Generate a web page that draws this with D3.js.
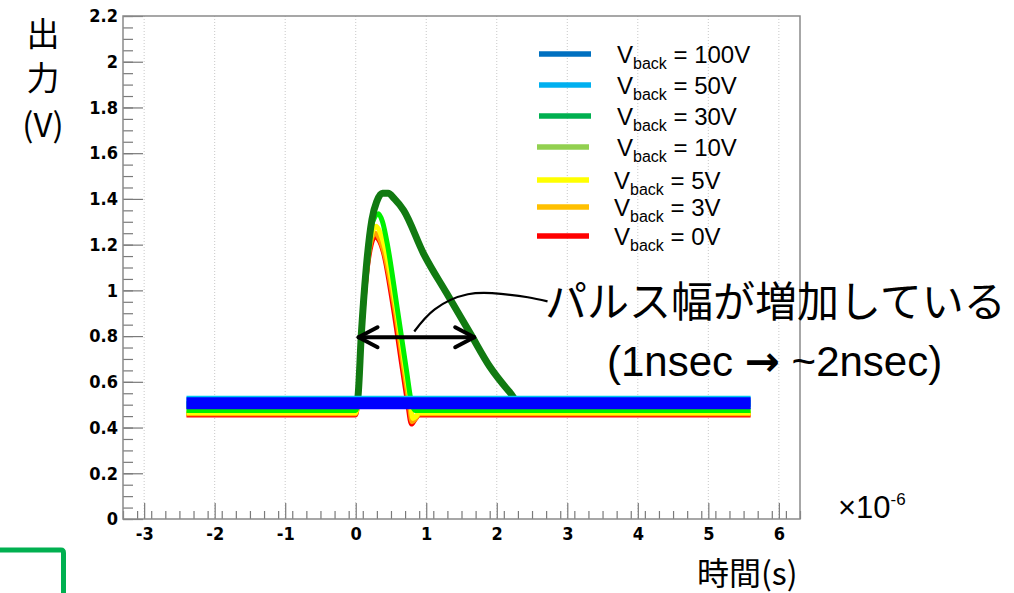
<!DOCTYPE html>
<html>
<head>
<meta charset="utf-8">
<title>パルス幅</title>
<script src="https://d3js.org/d3.v7.min.js"></script>
<style>
    body { margin: 0; background: #ffffff; }
    svg { display: block; }
    .tick line { stroke: #7a7a7a; stroke-width: 1.2; }
    .jp { font-family: "Noto Sans CJK JP", sans-serif; fill: #000; }
    .lat { font-family: "Liberation Sans", Arial, sans-serif; fill: #000; }
</style>
</head>
<body>
<svg id="chart" width="1014" height="593"></svg>
<script>
// legend order, top to bottom
const vbackLabels = ["100V", "50V", "30V", "10V", "5V", "3V", "0V"];
const legendColors = ["#0070c0", "#00b0f0", "#00b050", "#92d050", "#ffff00", "#ffc000", "#ff0000"];
const traceColors = ["#0000ff", "#00c8f0", "#117a11", "#00f000", "#ffff00", "#ffa000", "#ff0000"];
const traceWidths = [12, 12, 7, 5, 5, 5, 5];

// waveforms: [time (x10^-6 s), output (V)]
const trace100V = [[-2.4, 0.506], [5.6, 0.506]];
const trace50V = [[-2.4, 0.513], [5.6, 0.513]];
const trace30V = [[-2.4, 0.5], [0, 0.5], [0.03, 0.53], [0.08, 0.81], [0.15, 1.1], [0.23, 1.31], [0.3, 1.39],
    [0.38, 1.425], [0.46, 1.425], [0.55, 1.4], [0.68, 1.35], [0.96, 1.162], [1.29, 0.987], [1.62, 0.814], [1.9, 0.667],
    [2.19, 0.552], [2.32, 0.506], [5.6, 0.506]];
const trace10V = [[-2.4, 0.475], [0, 0.475], [0.03, 0.52], [0.08, 0.81], [0.15, 1.1], [0.22, 1.28], [0.32, 1.335],
    [0.38, 1.3], [0.45, 1.2], [0.58, 0.94], [0.72, 0.65], [0.79, 0.51], [0.84, 0.475], [5.6, 0.475]];
const trace5V = [[-2.4, 0.465], [0, 0.465], [0.03, 0.52], [0.08, 0.8], [0.15, 1.08], [0.22, 1.24], [0.29, 1.28],
    [0.35, 1.25], [0.42, 1.18], [0.57, 0.93], [0.71, 0.64], [0.78, 0.5], [0.81, 0.44], [0.86, 0.45], [0.9, 0.465], [5.6, 0.465]];
const trace3V = [[-2.4, 0.46], [0, 0.46], [0.03, 0.52], [0.08, 0.8], [0.15, 1.07], [0.22, 1.22], [0.27, 1.25],
    [0.33, 1.23], [0.4, 1.17], [0.55, 0.93], [0.69, 0.64], [0.76, 0.5], [0.8, 0.425], [0.85, 0.44], [0.9, 0.46], [5.6, 0.46]];
const trace0V = [[-2.4, 0.455], [0, 0.455], [0.03, 0.52], [0.08, 0.8], [0.15, 1.06], [0.22, 1.2], [0.27, 1.235],
    [0.33, 1.22], [0.39, 1.17], [0.53, 0.93], [0.67, 0.64], [0.74, 0.5], [0.79, 0.415], [0.84, 0.435], [0.9, 0.455], [5.6, 0.455]];
const traces = [trace100V, trace50V, trace30V, trace10V, trace5V, trace3V, trace0V];

const xTicks = [-3, -2, -1, 0, 1, 2, 3, 4, 5, 6];
const yTicks = [0, 0.2, 0.4, 0.6, 0.8, 1, 1.2, 1.4, 1.6, 1.8, 2, 2.2];
const xTickLabels = ["-3", "-2", "-1", "0", "1", "2", "3", "4", "5", "6"];
const yTickLabels = ["0", "0.2", "0.4", "0.6", "0.8", "1", "1.2", "1.4", "1.6", "1.8", "2", "2.2"];

// double arrow + leader line (data units)
const arrowEnds = [[0.04, 0.795], [1.68, 0.795]];
const leaderPts = [[0.83, 0.82], [1.12, 0.917], [1.59, 0.983], [2.06, 0.985], [2.44, 0.97], [2.72, 0.952]];

const svg = d3.select("#chart");
const plot = { left: 123, right: 800, top: 16, bottom: 519 };

const x = d3.scaleLinear().domain([-3.3, 6.3]).range([plot.left, plot.right]);
const y = d3.scaleLinear().domain([0, 2.2]).range([plot.bottom, plot.top]);

// grid
svg.append("g").selectAll("line")
    .data(xTicks)
    .enter()
    .append("line")
    .attr("x1", d => x(d)).attr("x2", d => x(d))
    .attr("y1", plot.top).attr("y2", plot.bottom)
    .attr("stroke", "#c8c8c8")
    .attr("stroke-dasharray", "1,2");

// traces, drawn from 0V up so the blue band sits on top
const line = d3.line().x(d => x(d[0])).y(d => y(d[1])).curve(d3.curveMonotoneX);
const order = d3.range(traces.length).reverse();
svg.append("g").selectAll("path")
    .data(order)
    .enter()
    .append("path")
    .attr("d", i => line(traces[i]))
    .attr("fill", "none")
    .attr("stroke", i => traceColors[i])
    .attr("stroke-width", i => traceWidths[i])
    .attr("stroke-linejoin", "round");

// axes
const xMinor = d3.range(-33, 64, 2).map(i => i / 10);
const yMinor = d3.range(0, 45).map(i => i * 0.05);

const styleLabels = g => g.selectAll("text")
    .style("font-family", "'DejaVu Sans Condensed', 'DejaVu Sans', sans-serif")
    .style("font-weight", "bold")
    .style("font-size", "18px")
    .style("fill", "#000");

svg.append("g")
    .attr("transform", `translate(0,${plot.bottom})`)
    .call(d3.axisBottom(x).tickValues(xMinor).tickSize(-8).tickFormat(""))
    .call(g => g.select(".domain").remove());
svg.append("g")
    .attr("transform", `translate(0,${plot.bottom})`)
    .call(d3.axisBottom(x).tickValues(xTicks).tickSize(-16).tickPadding(8).tickFormat((d, i) => xTickLabels[i]))
    .call(g => g.select(".domain").remove())
    .call(styleLabels);
svg.append("g")
    .attr("transform", `translate(${plot.left},0)`)
    .call(d3.axisLeft(y).tickValues(yMinor).tickSize(-10).tickFormat(""))
    .call(g => g.select(".domain").remove());
svg.append("g")
    .attr("transform", `translate(${plot.left},0)`)
    .call(d3.axisLeft(y).tickValues(yTicks).tickSize(-20).tickPadding(5).tickFormat((d, i) => yTickLabels[i]))
    .call(g => g.select(".domain").remove())
    .call(styleLabels);

svg.append("rect")
    .attr("x", plot.left).attr("y", plot.top)
    .attr("width", plot.right - plot.left).attr("height", plot.bottom - plot.top)
    .attr("fill", "none")
    .attr("stroke", "#8a8a8a")
    .attr("stroke-width", 1.5);

// legend
const legend = svg.append("g").selectAll("g")
    .data(vbackLabels)
    .enter()
    .append("g")
    .attr("transform", (d, i) => `translate(0,${[54, 85, 116, 147, 180, 207, 236][i]})`);
legend.append("line")
    .attr("x1", (d, i) => i < 3 ? 539 : 537)
    .attr("x2", (d, i) => i < 3 ? 591 : 589)
    .attr("stroke", (d, i) => legendColors[i])
    .attr("stroke-width", 5.5);
const lt = legend.append("text")
    .attr("class", "lat")
    .attr("x", (d, i) => i < 4 ? 617 : 614)
    .attr("y", 9)
    .style("font-size", "24px");
lt.append("tspan").text("V");
lt.append("tspan").attr("dy", 5.5).style("font-size", "16px").text("back");
lt.append("tspan").attr("dy", -5.5).text(d => ` = ${d}`);

// arrow
const ax0 = x(arrowEnds[0][0]), ax1 = x(arrowEnds[1][0]), ay = y(arrowEnds[0][1]);
const arrow = svg.append("g")
    .attr("fill", "none")
    .attr("stroke", "#000")
    .attr("stroke-width", 4)
    .attr("stroke-linecap", "round")
    .attr("stroke-linejoin", "round");
arrow.append("line").attr("x1", ax0).attr("x2", ax1).attr("y1", ay).attr("y2", ay);
arrow.append("polyline").attr("points", `${ax0 + 19},${ay - 10} ${ax0},${ay} ${ax0 + 19},${ay + 10}`);
arrow.append("polyline").attr("points", `${ax1 - 19},${ay - 10} ${ax1},${ay} ${ax1 - 19},${ay + 10}`);

svg.append("path")
    .attr("d", d3.line().x(d => x(d[0])).y(d => y(d[1])).curve(d3.curveNatural)(leaderPts))
    .attr("fill", "none")
    .attr("stroke", "#000")
    .attr("stroke-width", 2.2);

// annotation texts
svg.append("text").attr("class", "jp")
    .attr("x", 545).attr("y", 317)
    .style("font-size", "42px")
    .text("パルス幅が増加している");
const sub = svg.append("text").attr("class", "lat")
    .attr("x", 607).attr("y", 376)
    .style("font-size", "42px");
sub.append("tspan").text("(1nsec ");
sub.append("tspan").style("font-family", "'DejaVu Sans', sans-serif").style("font-weight", "bold").text("→");
sub.append("tspan").text(" ~2nsec)");

// axis titles
const yt = svg.append("text").attr("class", "jp")
    .attr("text-anchor", "middle")
    .style("font-size", "33px");
yt.append("tspan").attr("x", 43).attr("y", 46).text("出");
yt.append("tspan").attr("x", 43).attr("y", 90).text("力");
yt.append("tspan").attr("x", 43).attr("y", 137).text("(V)");

svg.append("text").attr("class", "jp")
    .attr("x", 697).attr("y", 585)
    .style("font-size", "32px")
    .text("時間(s)");

const mult = svg.append("text").attr("class", "lat")
    .attr("x", 838).attr("y", 518)
    .style("font-size", "31px");
mult.append("tspan").text("×10");
mult.append("tspan").attr("dy", -13).style("font-size", "17px").text("-6");

// green frame corner, bottom left
svg.append("path")
    .attr("d", "M0,550 H61 Q63.5,550 63.5,553 V593")
    .attr("fill", "none")
    .attr("stroke", "#00b050")
    .attr("stroke-width", 5);
</script>
</body>
</html>
